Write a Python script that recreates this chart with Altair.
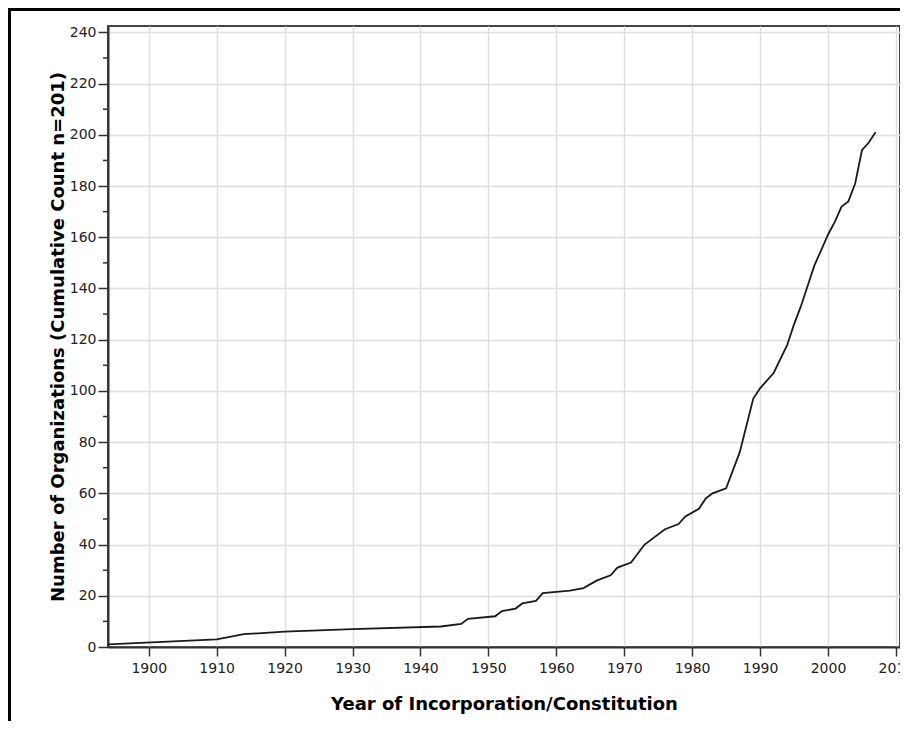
import altair as alt
import pandas as pd

years = [1894, 1910, 1914, 1920, 1930, 1943, 1946, 1947, 1951, 1952, 1954, 1955,
         1957, 1958, 1962, 1964, 1966, 1968, 1969, 1971, 1973, 1976, 1978, 1979,
         1981, 1982, 1983, 1985, 1987, 1989, 1990, 1991, 1992, 1994, 1995, 1996,
         1997, 1998, 1999, 2000, 2001, 2002, 2003, 2004, 2005, 2006, 2007]
counts = [1, 3, 5, 6, 7, 8, 9, 11, 12, 14, 15, 17,
          18, 21, 22, 23, 26, 28, 31, 33, 40, 46, 48, 51,
          54, 58, 60, 62, 76, 97, 101, 104, 107, 118, 126, 133,
          141, 149, 155, 161, 166, 172, 174, 181, 194, 197, 201]

x_ticks = [1900, 1910, 1920, 1930, 1940, 1950, 1960, 1970, 1980, 1990, 2000, 2010]
y_ticks = [0, 20, 40, 60, 80, 100, 120, 140, 160, 180, 200, 220, 240]
y_minor = [10, 30, 50, 70, 90, 110, 130, 150, 170, 190, 210, 230]

W, H = 792, 621
PAD = {"left": 100, "top": 18, "right": 0, "bottom": 74}
FONT = "DejaVu Sans"

df = pd.DataFrame({"year": years, "count": counts})
minor_df = pd.DataFrame({"v": y_minor})

xscale = alt.Scale(domain=[1894, 2010.6], nice=False, zero=False)
yscale = alt.Scale(domain=[0, 242.5], nice=False)

line = alt.Chart(df).mark_line(color="#1a1a1a", strokeWidth=1.8).encode(
    x=alt.X("year:Q", scale=xscale,
            axis=alt.Axis(values=x_ticks, format="d", title="Year of Incorporation/Constitution",
                          tickSize=9, labelPadding=5, titleY=62, titleBaseline="alphabetic")),
    y=alt.Y("count:Q", scale=yscale,
            axis=alt.Axis(values=y_ticks, title="Number of Organizations (Cumulative Count n=201)",
                          tickSize=10, labelPadding=2, titleX=-45, titleY=H / 2,
                          titleAlign="center", titleBaseline="alphabetic")),
)

minor = alt.Chart(minor_df).mark_rule(color="#333333", strokeWidth=1.5).encode(
    y=alt.Y("v:Q", scale=yscale),
    x=alt.value(-5),
    x2=alt.value(0),
)

frame_left = alt.Chart(minor_df).mark_rule(color="black", strokeWidth=2.5).encode(
    x=alt.value(-PAD["left"] + 1.25),
    y=alt.value(-PAD["top"]),
    y2=alt.value(H + PAD["bottom"]),
)
frame_top = alt.Chart(minor_df).mark_rule(color="black", strokeWidth=2.5).encode(
    y=alt.value(-PAD["top"] + 1.25),
    x=alt.value(-PAD["left"]),
    x2=alt.value(W + 10),
)

chart = alt.layer(line, minor, frame_left, frame_top).properties(
    width=W, height=H,
    padding=PAD,
    autosize=alt.AutoSizeParams(type="none"),
).configure_view(
    stroke="#444444", strokeWidth=2,
).configure_axis(
    domainColor="#333333", domainWidth=2,
    tickColor="#333333", tickWidth=1.5,
    gridColor="#dedede", gridWidth=1.5, grid=True,
    labelFont=FONT, labelFontSize=14, labelColor="#222222",
    titleFont=FONT, titleFontSize=18, titleFontWeight="bold", titleColor="black",
)

chart.save("out.html", embed_options={"renderer": "svg", "actions": False})
